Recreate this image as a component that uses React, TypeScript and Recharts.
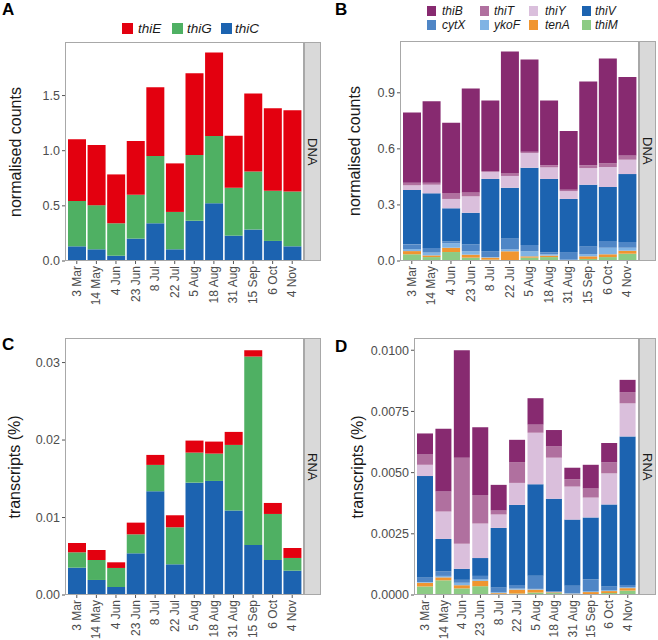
import React from "react";
import { BarChart, Bar, XAxis, YAxis } from "recharts";

const dates = ["3 Mar", "14 May", "4 Jun", "23 Jun", "8 Jul", "22 Jul", "5 Aug", "18 Aug", "31 Aug", "15 Sep", "6 Oct", "4 Nov"];

// A: thiC / thiG / thiE, DNA normalised counts
const dnaThiC = [0.133, 0.106, 0.048, 0.203, 0.342, 0.106, 0.364, 0.524, 0.23, 0.285, 0.182, 0.133];
const dnaThiG = [0.412, 0.4, 0.294, 0.397, 0.61, 0.339, 0.597, 0.609, 0.434, 0.527, 0.454, 0.497];
const dnaThiE = [0.558, 0.546, 0.443, 0.488, 0.624, 0.44, 0.742, 0.758, 0.472, 0.706, 0.749, 0.737];

// C: same genes, RNA transcripts (%)
const rnaThiC = [0.00353, 0.00194, 0.00103, 0.00538, 0.01339, 0.00396, 0.0145, 0.01472, 0.01089, 0.00646, 0.00452, 0.00314];
const rnaThiG = [0.00198, 0.00258, 0.00246, 0.00245, 0.0034, 0.00478, 0.00388, 0.00353, 0.00848, 0.02432, 0.00594, 0.00164];
const rnaThiE = [0.0012, 0.00129, 0.00073, 0.00151, 0.00129, 0.00155, 0.00155, 0.00155, 0.00168, 0.00081, 0.00142, 0.00129];

// B: salvage / transport genes, DNA
const dnaThiM = [0.036, 0.021, 0.048, 0.018, 0.007, 0.004, 0.018, 0.021, 0.003, 0.011, 0.021, 0.039];
const dnaTenA = [0.017, 0.009, 0.023, 0.016, 0.011, 0.048, 0.007, 0.008, 0.002, 0.014, 0.015, 0.016];
const dnaYkoF = [0.011, 0.015, 0.024, 0.018, 0.003, 0.01, 0.027, 0.007, 0.002, 0.012, 0.035, 0.016];
const dnaCytX = [0.025, 0.025, 0.01, 0.037, 0.032, 0.059, 0.034, 0.009, 0.041, 0.041, 0.036, 0.031];
const dnaThiV = [0.291, 0.292, 0.177, 0.169, 0.386, 0.271, 0.413, 0.394, 0.284, 0.33, 0.289, 0.363];
const dnaThiY = [0.025, 0.046, 0.05, 0.088, 0.037, 0.063, 0.079, 0.062, 0.042, 0.089, 0.107, 0.077];
const dnaThiT = [0.014, 0.011, 0.032, 0.021, 0.005, 0.016, 0.007, 0.011, 0.007, 0.015, 0.018, 0.023];
const dnaThiB = [0.376, 0.436, 0.376, 0.556, 0.378, 0.65, 0.493, 0.347, 0.314, 0.449, 0.563, 0.419];

// D: salvage / transport genes, RNA
const rnaThiM = [0.00035, 0.0006, 0.00027, 0.00036, 0.00005, 0.00006, 0.0001, 0.00008, 0.00002, 0.00004, 0.00008, 0.00018];
const rnaTenA = [0.00015, 0.00012, 0.00013, 0.00022, 0.00003, 0.00016, 0.00012, 0.00003, 0.00003, 0.00008, 0.00008, 0.0001];
const rnaYkoF = [0.00003, 0.00006, 0.0001, 0.00006, 0.00003, 0.00004, 0.00003, 0.00001, 0.00002, 0.00004, 0.00004, 0.00004];
const rnaCytX = [0.00019, 0.00018, 0.00012, 0.00014, 0.0002, 0.00015, 0.00054, 0.00002, 0.00031, 0.00047, 0.00015, 0.00009];
const rnaThiV = [0.00414, 0.00133, 0.00045, 0.00073, 0.00243, 0.00327, 0.00373, 0.00379, 0.0027, 0.00254, 0.00335, 0.00607];
const rnaThiY = [0.00046, 0.00112, 0.00102, 0.00141, 0.00055, 0.0009, 0.00211, 0.00168, 0.00135, 0.00081, 0.00127, 0.00135];
const rnaThiT = [0.00042, 0.00082, 0.00352, 0.00117, 0.00016, 0.00085, 0.00033, 0.00046, 0.0003, 0.00037, 0.00045, 0.00046];
const rnaThiB = [0.00086, 0.00256, 0.00439, 0.00276, 0.00105, 0.00091, 0.00108, 0.00067, 0.00047, 0.00097, 0.00079, 0.0005];

const ticksA = [0, 0.5, 1.0, 1.5];
const ticksB = [0, 0.3, 0.6, 0.9];
const ticksC = [0, 0.01, 0.02, 0.03];
const ticksD = [0, 0.0025, 0.005, 0.0075, 0.01];

const FONT = '"Liberation Sans", Arial, Helvetica, sans-serif';

// bottom -> top stacking order
const synthSeries = [
  { key: "thiC", color: "#1c63b0" },
  { key: "thiG", color: "#4fb063" },
  { key: "thiE", color: "#e3000f" },
];
const salvageSeries = [
  { key: "thiM", color: "#8ccb84" },
  { key: "tenA", color: "#f09530" },
  { key: "ykoF", color: "#80b3e4" },
  { key: "cytX", color: "#4f86c6" },
  { key: "thiV", color: "#1c63b0" },
  { key: "thiY", color: "#dabfdc" },
  { key: "thiT", color: "#b0709f" },
  { key: "thiB", color: "#872a70" },
];

function buildRows(cols: Record<string, number[]>) {
  return dates.map((d, i) => {
    const row: Record<string, any> = { date: d };
    Object.keys(cols).forEach((k) => (row[k] = cols[k][i]));
    return row;
  });
}

const dataA = buildRows({ thiC: dnaThiC, thiG: dnaThiG, thiE: dnaThiE });
const dataC = buildRows({ thiC: rnaThiC, thiG: rnaThiG, thiE: rnaThiE });
const dataB = buildRows({
  thiM: dnaThiM, tenA: dnaTenA, ykoF: dnaYkoF, cytX: dnaCytX,
  thiV: dnaThiV, thiY: dnaThiY, thiT: dnaThiT, thiB: dnaThiB,
});
const dataD = buildRows({
  thiM: rnaThiM, tenA: rnaTenA, ykoF: rnaYkoF, cytX: rnaCytX,
  thiV: rnaThiV, thiY: rnaThiY, thiT: rnaThiT, thiB: rnaThiB,
});

function DateTick(props: any) {
  const { x, y, payload } = props;
  const bx = x + 4;
  return (
    <text
      x={bx}
      y={y}
      transform={`rotate(-90, ${bx}, ${y})`}
      textAnchor="end"
      fill="#4d4d4d"
      fontSize={12}
      fontFamily={FONT}
    >
      {payload.value}
    </text>
  );
}

interface PanelProps {
  left: number;
  top: number;
  data: any[];
  series: { key: string; color: string }[];
  ticks: number[];
  digits: number;
  plot: { l: number; t: number; r: number; b: number };
  yTitle: string;
  titleX: number;
  strip: string;
  letter: string;
  letterTop: number;
}

const W = 329;
const H = 320;

function Panel({ left, top, data, series, ticks, digits, plot, yTitle, titleX, strip, letter, letterTop }: PanelProps) {
  return (
    <div style={{ position: "absolute", left, top, width: W, height: H }}>
      <BarChart
        width={W}
        height={H}
        data={data}
        margin={{ top: plot.t, right: W - plot.r, bottom: 0, left: 0 }}
        barCategoryGap={1}
      >
        <XAxis
          dataKey="date"
          interval={0}
          height={H - plot.b}
          padding={{ left: 2, right: 2 }}
          axisLine={false}
          tickSize={3}
          tickMargin={2}
          tickLine={{ stroke: "#555" }}
          tick={<DateTick />}
        />
        <YAxis
          width={plot.l}
          type="number"
          domain={[0, (max: number) => max * 1.05]}
          ticks={ticks}
          tickFormatter={(v: number) => v.toFixed(digits)}
          axisLine={false}
          tickSize={3}
          tickMargin={2}
          tickLine={{ stroke: "#555" }}
          tick={{ fill: "#4d4d4d", fontSize: 12.5, fontFamily: FONT }}
        />
        {series.map((s) => (
          <Bar key={s.key} dataKey={s.key} stackId="g" fill={s.color} isAnimationActive={false} />
        ))}
      </BarChart>
      {/* panel border */}
      <div
        style={{
          position: "absolute", left: plot.l, top: plot.t,
          width: plot.r - plot.l, height: plot.b - plot.t,
          border: "1px solid #a8a8a8", boxSizing: "border-box", pointerEvents: "none",
        }}
      />
      {/* facet strip */}
      <div
        style={{
          position: "absolute", left: plot.r, top: plot.t, width: 17, height: plot.b - plot.t,
          background: "#d9d9d9", border: "1px solid #a8a8a8", boxSizing: "border-box",
          display: "flex", alignItems: "center", justifyContent: "center",
        }}
      >
        <span style={{ writingMode: "vertical-rl", fontFamily: FONT, fontSize: 13, color: "#1a1a1a" }}>{strip}</span>
      </div>
      <div
        style={{
          position: "absolute", left: titleX, top: (plot.t + plot.b) / 2,
          transform: "translate(-50%, -50%) rotate(-90deg)", whiteSpace: "nowrap",
          fontFamily: FONT, fontSize: 16, color: "#1a1a1a",
        }}
      >
        {yTitle}
      </div>
      <div
        style={{
          position: "absolute", left: letter === "B" || letter === "D" ? 6 : 2, top: letterTop,
          fontFamily: FONT, fontWeight: "bold", fontSize: 17, lineHeight: "14px", color: "#000",
        }}
      >
        {letter}
      </div>
    </div>
  );
}

function LegendKey({ x, y, w, h, color, label, textX, size }: any) {
  return (
    <>
      <div style={{ position: "absolute", left: x, top: y - h / 2, width: w, height: h, background: color }} />
      <div
        style={{
          position: "absolute", left: textX, top: y - 6.5, lineHeight: "13px",
          fontFamily: FONT, fontSize: size, fontStyle: "italic", color: "#1a1a1a", whiteSpace: "nowrap",
        }}
      >
        {label}
      </div>
    </>
  );
}

const legendA = [
  { label: "thiE", color: "#e3000f", x: 122, tx: 138 },
  { label: "thiG", color: "#4fb063", x: 172, tx: 187 },
  { label: "thiC", color: "#1c63b0", x: 221, tx: 235 },
];
const legendBCols = [427, 480, 529, 582];
const legendBText = [442, 494, 545, 595];
const legendBOrder = ["thiB", "thiT", "thiY", "thiV", "cytX", "ykoF", "tenA", "thiM"];

export default function App() {
  const colorOf = (k: string) => salvageSeries.find((s) => s.key === k)!.color;
  return (
    <div style={{ position: "absolute", left: 0, top: 0, width: 658, height: 640, background: "#fff", overflow: "hidden" }}>
      <Panel
        left={0} top={0} data={dataA} series={synthSeries} ticks={ticksA} digits={1}
        plot={{ l: 65, t: 42, r: 304, b: 261 }} yTitle="normalised counts" titleX={16}
        strip="DNA" letter="A" letterTop={3}
      />
      <Panel
        left={329} top={0} data={dataB} series={salvageSeries} ticks={ticksB} digits={1}
        plot={{ l: 71, t: 41, r: 310, b: 261 }} yTitle="normalised counts" titleX={26}
        strip="DNA" letter="B" letterTop={3}
      />
      <Panel
        left={0} top={320} data={dataC} series={synthSeries} ticks={ticksC} digits={2}
        plot={{ l: 65, t: 18, r: 304, b: 275 }} yTitle="transcripts (%)" titleX={15}
        strip="RNA" letter="C" letterTop={18}
      />
      <Panel
        left={329} top={320} data={dataD} series={salvageSeries} ticks={ticksD} digits={4}
        plot={{ l: 85, t: 18, r: 310, b: 275 }} yTitle="transcripts (%)" titleX={29}
        strip="RNA" letter="D" letterTop={20}
      />
      {legendA.map((it) => (
        <LegendKey key={it.label} x={it.x} y={28} w={11} h={11} color={it.color} label={it.label} textX={it.tx} size={13.5} />
      ))}
      {legendBOrder.map((k, i) => (
        <LegendKey
          key={k}
          x={legendBCols[i % 4]}
          y={i < 4 ? 11 : 25}
          w={9}
          h={10}
          color={colorOf(k)}
          label={k}
          textX={legendBText[i % 4]}
          size={12}
        />
      ))}
    </div>
  );
}
